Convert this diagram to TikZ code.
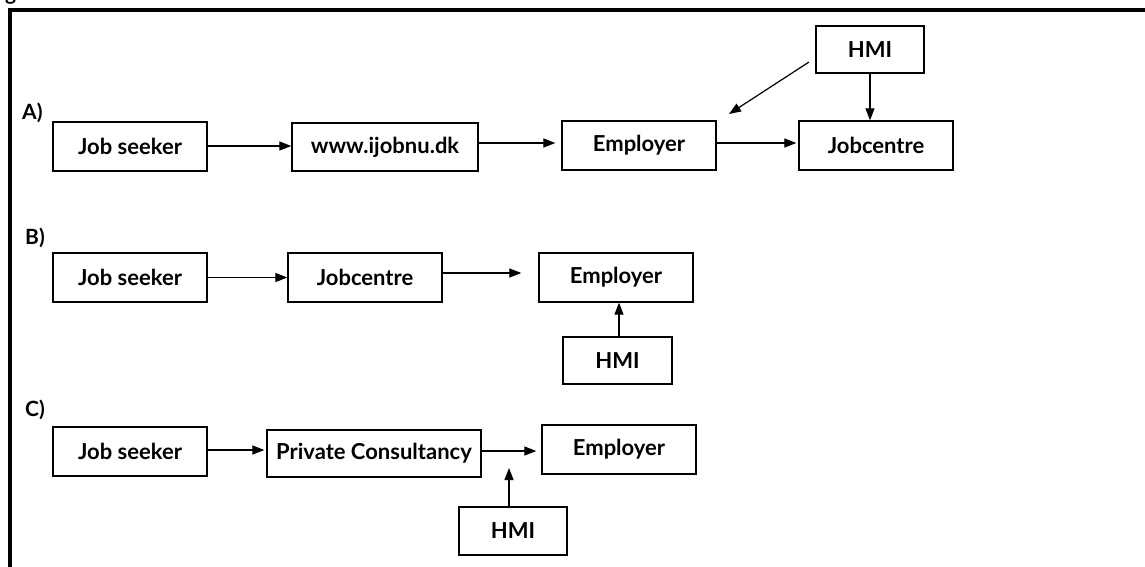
\documentclass[tikz,border=0pt]{standalone}
\usepackage{fontspec}
\setmainfont{Lato}
\usetikzlibrary{arrows.meta,calc}

\tikzset{
  box/.style={draw, line width=1.3pt, rectangle, inner sep=0pt,
    font=\fontsize{22}{26}\selectfont\bfseries},
  lbl/.style={inner sep=0pt, anchor=west, font=\fontsize{21}{25}\selectfont\bfseries},
  arr/.style={line width=1.2pt,
    -{Triangle[length=12pt,width=9pt]}},
}

\begin{document}
\begin{tikzpicture}[x=1pt,y=-1pt]
  \useasboundingbox (0,0) rectangle (1145,566);
  \begin{scope}
    \clip (0,0) rectangle (1145,566);
    % caption letter running off the top edge
    \node[lbl, anchor=base west] (cap) at (5,0) {g};
    % outer frame
    \draw[line width=3.6pt] (10,570) -- (10,10) -- (1150,10);
  \end{scope}

  % ---------- A ----------
  \node[lbl] (labA) at (22,113) {A)};
  \node[box, minimum width=154pt, minimum height=49pt] (jsA)  at (130,146.5) {Job seeker};
  \node[box, minimum width=186pt, minimum height=48pt] (webA) at (385,147) {www.ijobnu.dk};
  \node[box, minimum width=154pt, minimum height=49pt] (empA) at (639,145.5) {Employer};
  \node[box, minimum width=154pt, minimum height=49pt] (jcA)  at (876,145.5) {Jobcentre};
  \node[box, minimum width=108pt, minimum height=47pt] (hmiA) at (870,49.5) {HMI};
  \coordinate (diagS) at (809,62);
  \coordinate (diagE) at (729,114);

  \draw[arr] ([yshift=0.5pt]jsA.east) -- ([yshift=1pt]webA.west);
  \draw[arr, shorten >=6pt] ([yshift=4pt]webA.east) -- ([yshift=2.5pt]empA.west);
  \draw[arr, shorten >=2pt] ([yshift=2.5pt]empA.east) -- ([yshift=2.5pt]jcA.west);
  \draw[arr] (hmiA.south) -- (jcA.north -| hmiA.south);
  \draw[arr] (diagS) -- (diagE);

  % ---------- B ----------
  \node[lbl] (labB) at (25,238) {B)};
  \node[box, minimum width=154pt, minimum height=49pt] (jsB)  at (130,277.5) {Job seeker};
  \node[box, minimum width=154pt, minimum height=49pt] (jcB)  at (365,277.5) {Jobcentre};
  \node[box, minimum width=154pt, minimum height=49pt] (empB) at (616,277.5) {Employer};
  \node[box, minimum width=109pt, minimum height=47pt] (hmiB) at (617.5,360.5) {HMI};

  \draw[arr] (jsB.east) -- (jcB.west);
  \draw[arr, shorten >=17pt] ([yshift=4.5pt]jcB.east) -- ([yshift=4.5pt]empB.west);
  \draw[arr] ([xshift=1.5pt]hmiB.north) -- ([xshift=3pt]empB.south);

  % ---------- C ----------
  \node[lbl] (labC) at (25,410) {C)};
  \node[box, minimum width=154pt, minimum height=49pt] (jsC)  at (130,451.5) {Job seeker};
  \node[box, minimum width=214pt, minimum height=47pt] (pcC)  at (374,453.5) {Private Consultancy};
  \node[box, minimum width=154pt, minimum height=49pt] (empC) at (619,449.5) {Employer};
  \node[box, minimum width=108pt, minimum height=48pt] (hmiC) at (513,531) {HMI};
  \coordinate (hmiCtip) at (509,468);

  \draw[arr, shorten >=2pt] ([yshift=1.5pt]jsC.east) -- ([yshift=3.5pt]pcC.west);
  \draw[arr, shorten >=5pt] ([yshift=2.5pt]pcC.east) -- ([yshift=-1.5pt]empC.west);
  \draw[arr] (hmiC.north -| hmiCtip) -- (hmiCtip);
\end{tikzpicture}
\end{document}
